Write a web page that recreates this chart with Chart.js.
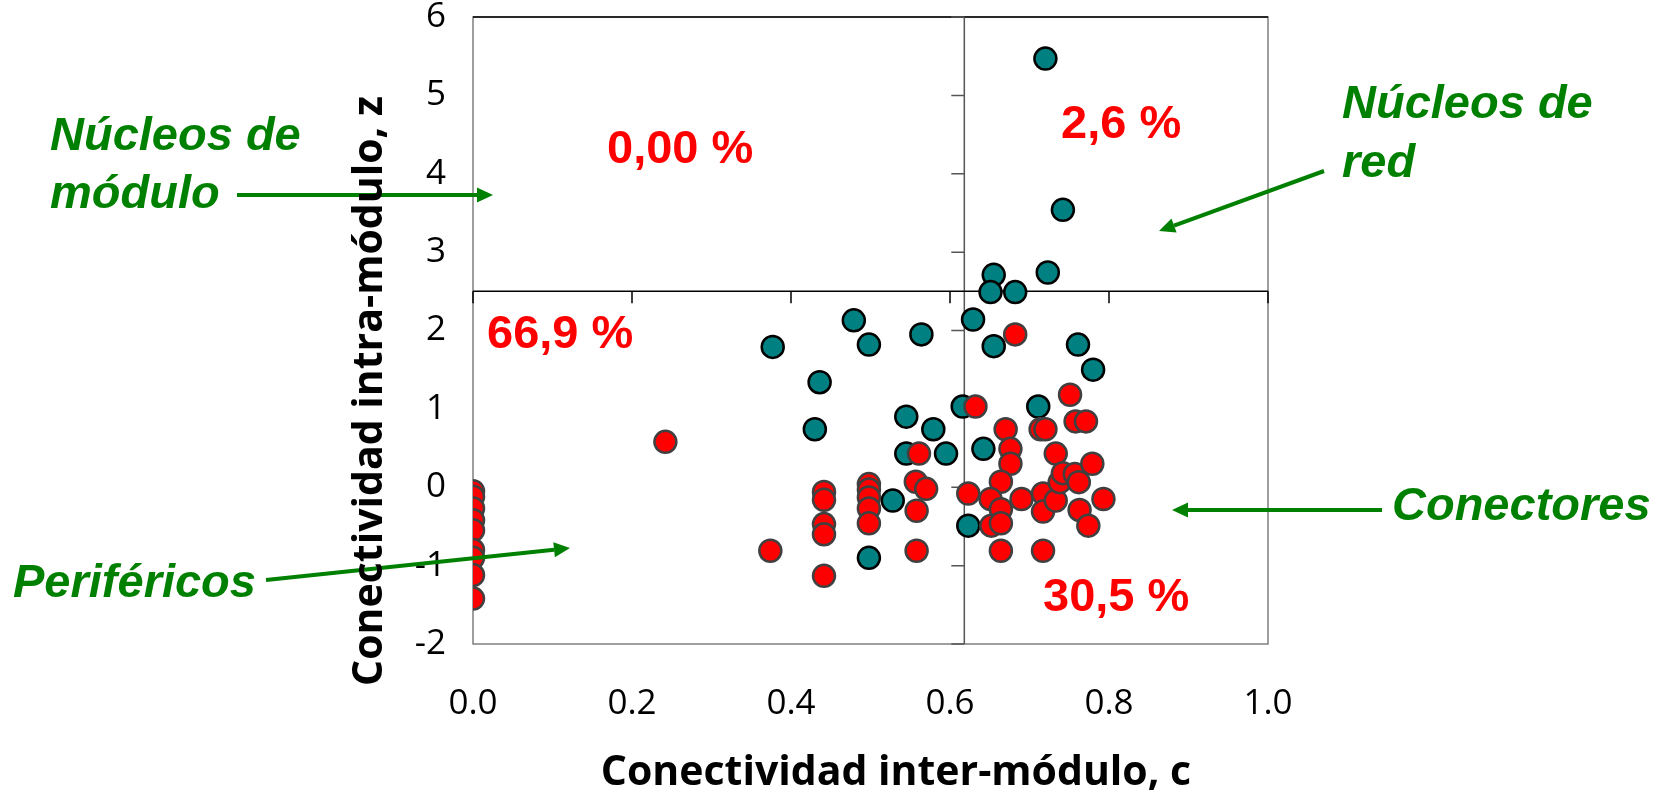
<!DOCTYPE html>
<html>
<head>
<meta charset="utf-8">
<title>Conectividad</title>
<style>
  body { margin: 0; background: #fff; }
</style>
</head>
<body>
<canvas id="myChart" width="1670" height="798"></canvas>
<script src="https://cdn.jsdelivr.net/npm/chart.js@4.4.0/dist/chart.umd.min.js"></script>
<script>
// teal nodes (c, z)
var tealC = [0.720, 0.742, 0.723, 0.655, 0.651, 0.682, 0.629, 0.479, 0.564, 0.498, 0.377, 0.655, 0.761,
             0.780, 0.436, 0.616, 0.711, 0.545, 0.430, 0.579, 0.545, 0.595, 0.642, 0.528, 0.498, 0.623];
var tealZ = [5.47, 3.54, 2.74, 2.71, 2.49, 2.49, 2.14, 2.13, 1.95, 1.82, 1.79, 1.80, 1.82,
             1.50, 1.34, 1.03, 1.03, 0.90, 0.74, 0.74, 0.43, 0.43, 0.49, -0.17, -0.90, -0.49];

// red nodes (c, z)
var redC = [0, 0, 0, 0, 0, 0, 0, 0, 0,
            0.242, 0.374,
            0.4415, 0.4415, 0.4415, 0.4415, 0.4415,
            0.498, 0.498, 0.498, 0.498, 0.498,
            0.561, 0.557, 0.570, 0.558, 0.558, 0.623, 0.632, 0.682, 0.670, 0.676, 0.676,
            0.664, 0.651, 0.664, 0.652, 0.664, 0.664, 0.690, 0.714, 0.720, 0.717, 0.717, 0.717,
            0.733, 0.733, 0.738, 0.742, 0.757, 0.762, 0.751, 0.758, 0.771, 0.779, 0.763, 0.774, 0.793];
var redZ = [-0.05, -0.12, -0.27, -0.42, -0.55, -0.80, -0.90, -1.12, -1.42,
            0.58, -0.81,
            -0.06, -0.16, -0.47, -0.60, -1.13,
            0.04, -0.03, -0.13, -0.27, -0.46,
            0.43, 0.07, -0.02, -0.30, -0.81, -0.08, 1.03, 1.95, 0.74, 0.49, 0.30,
            0.07, -0.15, -0.28, -0.49, -0.46, -0.81, -0.15, 0.74, 0.74, -0.08, -0.31, -0.81,
            0.43, -0.17, 0.065, 0.18, 0.17, 0.065, 1.18, 0.84, 0.84, 0.30, -0.29, -0.49, -0.15];

var xTicks = [0, 0.2, 0.4, 0.6, 0.8, 1.0];
var yTicks = [-2, -1, 0, 1, 2, 3, 4, 5, 6];
var splitC = 0.618;
var splitZ = 2.5;

// labels: [text, x, y] in pixels
var percentLabels = [['0,00 %', 607, 163], ['2,6 %', 1061, 138], ['66,9 %', 487, 348], ['30,5 %', 1043, 611]];
var roleLabels = [['Núcleos de', 50, 150], ['módulo', 50, 208], ['Núcleos de', 1342, 118], ['red', 1342, 177],
                  ['Conectores', 1392, 520], ['Periféricos', 13, 597]];
var arrows = [[237, 195, 493, 195], [1324, 171, 1159, 231], [1382, 510, 1172, 510], [266, 580, 570, 548]];

function pairs(xs, ys) {
  var out = [];
  for (var i = 0; i < xs.length; i++) out.push({x: xs[i], y: ys[i]});
  return out;
}

function arrow(ctx, x1, y1, x2, y2) {
  var a = Math.atan2(y2 - y1, x2 - x1);
  var len = 16, hw = 7.5;
  var bx = x2 - len * Math.cos(a), by = y2 - len * Math.sin(a);
  ctx.beginPath();
  ctx.moveTo(x1, y1);
  ctx.lineTo(bx, by);
  ctx.stroke();
  ctx.beginPath();
  ctx.moveTo(x2, y2);
  ctx.lineTo(bx + hw * Math.sin(a), by - hw * Math.cos(a));
  ctx.lineTo(bx - hw * Math.sin(a), by + hw * Math.cos(a));
  ctx.closePath();
  ctx.fill();
}

var quadrants = {
  id: 'quadrants',
  beforeDatasetsDraw: function(chart) {
    var ctx = chart.ctx, a = chart.chartArea;
    var sx = chart.scales.x, sy = chart.scales.y;
    var vx = sx.getPixelForValue(splitC), hy = sy.getPixelForValue(splitZ);
    ctx.save();
    ctx.lineWidth = 1.5;
    ctx.strokeStyle = '#7f7f7f';
    ctx.strokeRect(a.left, a.top, a.right - a.left, a.bottom - a.top);
    ctx.strokeStyle = '#000';
    ctx.beginPath();
    ctx.moveTo(a.left, a.top); ctx.lineTo(a.right, a.top);
    ctx.stroke();
    // vertical divider with z ticks
    ctx.strokeStyle = '#555';
    ctx.beginPath();
    ctx.moveTo(vx, a.top); ctx.lineTo(vx, a.bottom);
    yTicks.forEach(function(v) {
      var p = sy.getPixelForValue(v);
      ctx.moveTo(vx - 13, p); ctx.lineTo(vx, p);
    });
    ctx.stroke();
    // horizontal divider with c ticks
    ctx.strokeStyle = '#000';
    ctx.beginPath();
    ctx.moveTo(a.left, hy); ctx.lineTo(a.right, hy);
    xTicks.forEach(function(v) {
      var p = sx.getPixelForValue(v);
      ctx.moveTo(p, hy); ctx.lineTo(p, hy + 12);
    });
    ctx.stroke();
    ctx.restore();
  },
  afterDraw: function(chart) {
    var ctx = chart.ctx;
    ctx.save();
    ctx.textBaseline = 'alphabetic';
    ctx.textAlign = 'left';
    ctx.fillStyle = '#ff0000';
    ctx.font = 'bold 47px "Liberation Sans", Arial, sans-serif';
    percentLabels.forEach(function(l) { ctx.fillText(l[0], l[1], l[2]); });
    ctx.fillStyle = '#008000';
    ctx.font = 'italic bold 47px "Liberation Sans", Arial, sans-serif';
    roleLabels.forEach(function(l) { ctx.fillText(l[0], l[1], l[2]); });
    ctx.strokeStyle = '#008000';
    ctx.lineWidth = 4;
    arrows.forEach(function(r) { arrow(ctx, r[0], r[1], r[2], r[3]); });
    // axis titles
    ctx.fillStyle = '#000';
    ctx.textAlign = 'center';
    ctx.textBaseline = 'middle';
    ctx.font = 'bold 41px "Open Sans", sans-serif';
    ctx.fillText('Conectividad inter-módulo, c', 896, 773);
    ctx.translate(370, 391);
    ctx.rotate(-Math.PI / 2);
    ctx.fillText('Conectividad intra-módulo, z', 0, 0);
    ctx.restore();
  }
};

var ctx = document.getElementById('myChart').getContext('2d');
var chart = new Chart(ctx, {
  type: 'scatter',
  data: {
    datasets: [{
      label: 'rojo',
      data: pairs(redC, redZ),
      backgroundColor: '#ff0000',
      borderColor: '#404040',
      borderWidth: 2.5,
      pointRadius: 11
    }, {
      label: 'verde azulado',
      data: pairs(tealC, tealZ),
      backgroundColor: '#008080',
      borderColor: '#000000',
      borderWidth: 2.5,
      pointRadius: 11
    }]
  },
  options: {
    responsive: false,
    animation: false,
    layout: { padding: { left: 0, top: 17, right: 402, bottom: 0 } },
    plugins: { legend: { display: false }, tooltip: { enabled: false } },
    scales: {
      x: {
        min: 0, max: 1,
        grid: { display: false, drawTicks: false },
        border: { display: false },
        afterFit: function(s) { s.height = 154; s.paddingLeft = 0; s.paddingRight = 0; },
        afterBuildTicks: function(s) { s.ticks = xTicks.map(function(v) { return {value: v}; }); },
        ticks: {
          padding: 43,
          color: '#000',
          font: { family: '"Open Sans"', size: 35, lineHeight: 1 },
          callback: function(v) { return Number(v).toFixed(1); }
        }
      },
      y: {
        min: -2, max: 6,
        grid: { display: false, drawTicks: false },
        border: { display: false },
        afterFit: function(s) { s.width = 473; s.paddingTop = 0; s.paddingBottom = 0; },
        afterBuildTicks: function(s) { s.ticks = yTicks.map(function(v) { return {value: v}; }); },
        ticks: {
          padding: 27,
          color: '#000',
          font: { family: '"Open Sans"', size: 35, lineHeight: 1 }
        }
      }
    }
  },
  plugins: [quadrants]
});
</script>
</body>
</html>
